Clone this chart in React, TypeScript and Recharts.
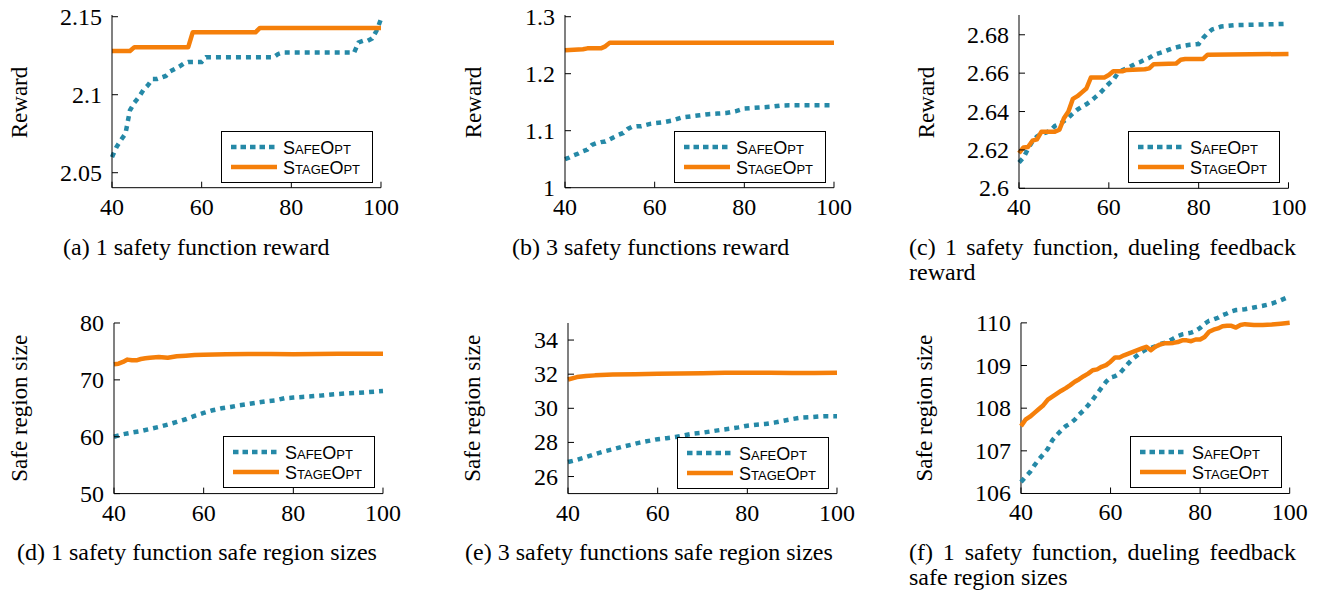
import React from 'react';
import { LineChart, Line, XAxis, YAxis, Legend, ReferenceLine } from 'recharts';

const TEAL = '#2589a7';
const ORANGE = '#f57f0a';
const SERIF = '"Liberation Serif", "Times New Roman", serif';
const SANS = '"Liberation Sans", Arial, sans-serif';

const xTicks = [40, 60, 80, 100];
const seriesNames = ['SafeOpt', 'StageOpt'];

// (a) 1 safety function reward
const aSafeX = [40, 41, 42, 43, 44, 45, 46, 47, 48, 49, 50, 51, 52, 53, 54, 55, 56, 57, 58, 59, 60, 61, 76, 77, 78, 94, 95, 96, 97, 98, 99, 100];
const aSafeY = [2.06, 2.0665, 2.071, 2.075, 2.09, 2.095, 2.0985, 2.103, 2.106, 2.11, 2.11, 2.111, 2.112, 2.115, 2.1165, 2.118, 2.12, 2.121, 2.121, 2.121, 2.121, 2.124, 2.124, 2.126, 2.127, 2.127, 2.1335, 2.1345, 2.1345, 2.136, 2.141, 2.1485];
const aStageX = [40, 44, 45, 57, 58, 72, 73, 100];
const aStageY = [2.128, 2.128, 2.1305, 2.1305, 2.14, 2.14, 2.1428, 2.1428];
const aYTicks = [2.05, 2.1, 2.15];

// (b) 3 safety functions reward
const bSafeX = [40, 41, 42, 43, 44, 45, 46, 47, 48, 49, 50, 51, 52, 53, 54, 55, 56, 57, 58, 59, 60, 62, 64, 66, 68, 70, 72, 74, 76, 78, 80, 82, 84, 86, 88, 90, 100];
const bSafeY = [1.05, 1.053, 1.057, 1.06, 1.064, 1.067, 1.075, 1.078, 1.08, 1.081, 1.085, 1.089, 1.093, 1.096, 1.103, 1.107, 1.108, 1.108, 1.11, 1.112, 1.113, 1.115, 1.118, 1.123, 1.125, 1.127, 1.129, 1.13, 1.131, 1.134, 1.139, 1.14, 1.141, 1.142, 1.144, 1.1445, 1.1445];
const bStageX = [40, 42, 44, 45, 48, 49, 50, 100];
const bStageY = [1.241, 1.242, 1.243, 1.2445, 1.2445, 1.248, 1.2545, 1.2545];
const bYTicks = [1, 1.1, 1.2, 1.3];

// (c) 1 safety function, dueling feedback reward
const cSafeX = [40, 41, 42, 43, 44, 45, 46, 47, 48, 49, 50, 51, 52, 53, 54, 55, 56, 57, 58, 59, 60, 61, 62, 63, 64, 65, 66, 67, 68, 69, 70, 72, 74, 76, 78, 80, 81, 82, 83, 85, 88, 100];
const cSafeY = [2.6134, 2.616, 2.6205, 2.6245, 2.627, 2.6285, 2.629, 2.63, 2.6325, 2.6335, 2.635, 2.6368, 2.639, 2.641, 2.6425, 2.6438, 2.6455, 2.6475, 2.6495, 2.652, 2.6545, 2.6565, 2.66, 2.6615, 2.6625, 2.6637, 2.665, 2.6658, 2.667, 2.668, 2.6695, 2.671, 2.6728, 2.674, 2.6748, 2.6752, 2.6783, 2.6808, 2.6828, 2.6843, 2.685, 2.6857];
const cStageX = [40, 41, 42, 43, 44, 45, 48, 49, 50, 51, 52, 53, 54, 55, 56, 59, 60, 61, 63, 64, 68, 69, 70, 75, 76, 77, 81, 82, 100];
const cStageY = [2.6183, 2.6213, 2.6215, 2.6248, 2.6255, 2.6295, 2.6295, 2.6305, 2.6365, 2.64, 2.6466, 2.648, 2.65, 2.652, 2.6577, 2.6577, 2.659, 2.661, 2.661, 2.6617, 2.662, 2.6625, 2.6647, 2.665, 2.667, 2.6674, 2.6674, 2.6696, 2.67];
const cYTicks = [2.6, 2.62, 2.64, 2.66, 2.68];

// (d) 1 safety function safe region sizes
const dSafeX = [40, 42, 44, 46, 48, 50, 52, 54, 56, 58, 60, 62, 64, 66, 68, 70, 72, 74, 76, 78, 80, 82, 84, 86, 88, 90, 92, 94, 96, 98, 100];
const dSafeY = [60.0, 60.43, 60.73, 61.0, 61.37, 61.72, 62.13, 62.6, 63.07, 63.66, 64.18, 64.65, 65.0, 65.24, 65.53, 65.76, 66.0, 66.23, 66.4, 66.76, 66.88, 67.0, 67.1, 67.23, 67.4, 67.52, 67.64, 67.7, 67.8, 67.93, 68.05];
const dStageX = [40, 41, 42, 43, 44, 45, 46, 47, 48, 50, 52, 54, 56, 58, 60, 65, 70, 75, 80, 85, 90, 95, 100];
const dStageY = [72.74, 72.85, 73.15, 73.56, 73.44, 73.44, 73.67, 73.79, 73.9, 74.0, 73.9, 74.14, 74.26, 74.38, 74.43, 74.5, 74.55, 74.55, 74.5, 74.55, 74.6, 74.6, 74.6];
const dYTicks = [50, 60, 70, 80];

// (e) 3 safety functions safe region sizes
const eSafeX = [40, 42, 44, 46, 48, 50, 52, 54, 56, 58, 60, 62, 64, 66, 68, 70, 72, 74, 76, 78, 80, 82, 84, 86, 88, 90, 92, 94, 96, 98, 100];
const eSafeY = [26.85, 26.98, 27.14, 27.31, 27.47, 27.6, 27.74, 27.86, 27.99, 28.09, 28.19, 28.25, 28.32, 28.42, 28.52, 28.57, 28.65, 28.73, 28.8, 28.88, 28.98, 29.04, 29.08, 29.16, 29.27, 29.37, 29.45, 29.48, 29.52, 29.54, 29.54];
const eStageX = [40, 42, 44, 46, 50, 55, 60, 70, 75, 80, 85, 90, 95, 100];
const eStageY = [31.69, 31.83, 31.89, 31.93, 31.98, 32.0, 32.02, 32.06, 32.08, 32.08, 32.08, 32.07, 32.07, 32.08];
const eYTicks = [26, 28, 30, 32, 34];

// (f) 1 safety function, dueling feedback safe region sizes
const fSafeX = [40, 41, 42, 43, 44, 45, 46, 47, 48, 49, 50, 51, 52, 53, 54, 55, 56, 57, 58, 59, 60, 61, 62, 63, 64, 65, 66, 67, 68, 69, 70, 71, 72, 73, 74, 75, 76, 77, 78, 79, 80, 81, 82, 83, 84, 85, 86, 87, 88, 89, 90, 92, 94, 96, 98, 100];
const fSafeY = [106.27, 106.39, 106.5, 106.66, 106.8, 106.92, 107.05, 107.25, 107.37, 107.48, 107.58, 107.64, 107.73, 107.85, 107.95, 108.07, 108.2, 108.34, 108.48, 108.62, 108.72, 108.75, 108.81, 108.93, 109.05, 109.16, 109.24, 109.32, 109.38, 109.41, 109.45, 109.5, 109.53, 109.57, 109.63, 109.69, 109.73, 109.75, 109.77, 109.81, 109.88, 109.98, 110.05, 110.08, 110.12, 110.18, 110.22, 110.27, 110.3, 110.31, 110.32, 110.36, 110.4, 110.45, 110.53, 110.62];
const fStageX = [40, 41, 42, 43, 44, 45, 46, 47, 48, 49, 50, 51, 52, 53, 54, 55, 56, 57, 58, 59, 60, 61, 62, 63, 64, 65, 66, 67, 68, 69, 70, 71, 72, 73, 74, 75, 76, 77, 78, 79, 80, 81, 82, 83, 84, 85, 86, 87, 88, 89, 90, 92, 94, 96, 98, 100];
const fStageY = [107.58, 107.73, 107.8, 107.89, 107.98, 108.07, 108.2, 108.27, 108.34, 108.41, 108.47, 108.54, 108.62, 108.68, 108.75, 108.81, 108.89, 108.91, 108.97, 109.01, 109.09, 109.19, 109.19, 109.24, 109.28, 109.32, 109.36, 109.4, 109.44, 109.36, 109.44, 109.49, 109.52, 109.52, 109.53, 109.55, 109.59, 109.59, 109.57, 109.61, 109.61, 109.67, 109.79, 109.84, 109.87, 109.92, 109.93, 109.93, 109.89, 109.95, 109.97, 109.95, 109.95, 109.96, 109.98, 110.0];
const fYTicks = [106, 107, 108, 109, 110];

const rows = (xs: number[], ys: number[]) => xs.map((x, i) => ({ x, y: ys[i] }));

const XTick = (props: any) => {
  const { x, y, payload } = props;
  return (
    <g>
      <line x1={x} y1={y} x2={x} y2={y - 6} stroke="#000" strokeWidth={1} />
      <text x={x} y={y + 27} textAnchor="middle" fontSize={24} fontFamily={SERIF} fill="#000">
        {String(payload.value)}
      </text>
    </g>
  );
};

const YTick = (props: any) => {
  const { x, y, payload } = props;
  return (
    <g>
      <line x1={x} y1={y} x2={x + 6} y2={y} stroke="#000" strokeWidth={1} />
      <text x={x - 10} y={y + 8} textAnchor="end" fontSize={24} fontFamily={SERIF} fill="#000">
        {String(payload.value)}
      </text>
    </g>
  );
};

const YLab = (props: any) => {
  const { bx, cy, text } = props;
  return (
    <text
      transform={`translate(${bx},${cy}) rotate(-90)`}
      textAnchor="middle"
      fontSize={23}
      fontFamily={SERIF}
      fill="#000"
    >
      {text}
    </text>
  );
};

const LegendBox = () => (
  <svg width={153} height={53} style={{ display: 'block' }}>
    <rect x={0.5} y={0.5} width={151} height={51} fill="#fff" stroke="#000" strokeWidth={1} />
    <line x1={10} y1={16} x2={56} y2={16} stroke={TEAL} strokeWidth={4.5} strokeDasharray="5.5 4" />
    <line x1={10} y1={36} x2={56} y2={36} stroke={ORANGE} strokeWidth={4.5} />
    <text x={62} y={22.5} fontSize={18} fontFamily={SANS} style={{ fontVariant: 'small-caps' }} fill="#000">
      {seriesNames[0]}
    </text>
    <text x={62} y={42.5} fontSize={18} fontFamily={SANS} style={{ fontVariant: 'small-caps' }} fill="#000">
      {seriesNames[1]}
    </text>
  </svg>
);

type PanelProps = {
  plotX: number;
  plotY: number;
  plotW: number;
  plotH: number;
  yDomain: [number, number];
  yTicks: number[];
  safe: { x: number; y: number }[];
  stage: { x: number; y: number }[];
  yLabel: string;
  labelX: number;
  labelY: number;
  legendX: number;
  legendY: number;
  axisTop?: number;
};

const Panel = (p: PanelProps) => {
  const YW = 110;
  const MT = Math.min(Math.floor(p.plotY), 28);
  const MR = 20;
  const XH = 45;
  const chartLeft = p.plotX - YW;
  const chartTop = p.plotY - MT;
  const W = YW + p.plotW + MR;
  const H = MT + p.plotH + XH;
  const customAxis = p.axisTop !== undefined;
  return (
    <div style={{ position: 'absolute', left: chartLeft, top: chartTop }}>
      <LineChart width={W} height={H} margin={{ top: MT, right: MR, bottom: 0, left: 0 }}>
        <XAxis
          type="number"
          dataKey="x"
          domain={[40, 100]}
          ticks={xTicks}
          interval={0}
          height={XH}
          tickSize={0}
          tickMargin={0}
          tickLine={false}
          axisLine={{ stroke: '#000', strokeWidth: 1 }}
          tick={(props: any) => <XTick {...props} />}
        />
        <YAxis
          type="number"
          domain={p.yDomain}
          ticks={p.yTicks}
          interval={0}
          width={YW}
          tickSize={0}
          tickMargin={0}
          tickLine={false}
          axisLine={customAxis ? false : { stroke: '#000', strokeWidth: 1 }}
          tick={(props: any) => <YTick {...props} />}
          label={<YLab bx={p.labelX - chartLeft} cy={p.labelY - chartTop} text={p.yLabel} />}
        />
        {customAxis && (
          <ReferenceLine
            segment={[
              { x: 40, y: p.yDomain[0] },
              { x: 40, y: p.axisTop as number },
            ]}
            stroke="#000"
            strokeWidth={1}
            ifOverflow="visible"
          />
        )}
        <Line
          data={p.safe}
          dataKey="y"
          type="linear"
          stroke={TEAL}
          strokeWidth={4.5}
          strokeDasharray="5 5"
          dot={false}
          activeDot={false}
          isAnimationActive={false}
          name={seriesNames[0]}
        />
        <Line
          data={p.stage}
          dataKey="y"
          type="linear"
          stroke={ORANGE}
          strokeWidth={4.5}
          strokeLinejoin="round"
          dot={false}
          activeDot={false}
          isAnimationActive={false}
          name={seriesNames[1]}
        />
        <Legend
          layout="horizontal"
          align="center"
          verticalAlign="middle"
          content={() => <LegendBox />}
          wrapperStyle={{
            position: 'absolute',
            left: p.legendX - chartLeft,
            top: p.legendY - chartTop,
            width: 153,
            height: 53,
          }}
        />
      </LineChart>
    </div>
  );
};

const capBase: React.CSSProperties = {
  position: 'absolute',
  fontFamily: SERIF,
  fontSize: 24,
  lineHeight: '25px',
  color: '#000',
  whiteSpace: 'nowrap',
};

const capJust: React.CSSProperties = {
  ...capBase,
  whiteSpace: 'normal',
  textAlign: 'justify',
  width: 387,
};

export default function App() {
  return (
    <div
      style={{
        position: 'absolute',
        left: 0,
        top: 0,
        width: 1317,
        height: 592,
        background: '#fff',
        overflow: 'hidden',
      }}
    >
      <Panel plotX={112} plotY={15} plotW={269} plotH={172.7} yDomain={[2.0404, 2.1511]} yTicks={aYTicks}
        safe={rows(aSafeX, aSafeY)} stage={rows(aStageX, aStageY)} yLabel="Reward" labelX={27} labelY={102.5}
        legendX={221} legendY={131} />
      <Panel plotX={565} plotY={15} plotW={269} plotH={172.7} yDomain={[1, 1.303]} yTicks={bYTicks}
        safe={rows(bSafeX, bSafeY)} stage={rows(bStageX, bStageY)} yLabel="Reward" labelX={481} labelY={102.5}
        legendX={674} legendY={131} />
      <Panel plotX={1019} plotY={15} plotW={269.5} plotH={173.3} yDomain={[2.6, 2.6903]} yTicks={cYTicks}
        safe={rows(cSafeX, cSafeY)} stage={rows(cStageX, cStageY)} yLabel="Reward" labelX={934} labelY={102.5}
        legendX={1128} legendY={131} />
      <Panel plotX={114.3} plotY={322.7} plotW={269} plotH={170.6} yDomain={[50, 80]} yTicks={dYTicks}
        safe={rows(dSafeX, dSafeY)} stage={rows(dStageX, dStageY)} yLabel="Safe region size" labelX={27} labelY={408}
        legendX={223} legendY={436} />
      <Panel plotX={567.7} plotY={322.7} plotW={269} plotH={170.6} yDomain={[25, 35]} yTicks={eYTicks}
        safe={rows(eSafeX, eSafeY)} stage={rows(eStageX, eStageY)} yLabel="Safe region size" labelX={480} labelY={408}
        legendX={677} legendY={437} />
      <Panel plotX={1021.3} plotY={292.8} plotW={268.7} plotH={200.5} yDomain={[106, 110.7]} yTicks={fYTicks}
        safe={rows(fSafeX, fSafeY)} stage={rows(fStageX, fStageY)} yLabel="Safe region size" labelX={932} labelY={408}
        legendX={1130} legendY={436} axisTop={110} />

      <div style={{ ...capBase, left: 63, top: 235.4 }}>(a) 1 safety function reward</div>
      <div style={{ ...capBase, left: 512, top: 235.4 }}>(b) 3 safety functions reward</div>
      <div style={{ ...capJust, left: 909, top: 235.4 }}>(c) 1 safety function, dueling feedback reward</div>
      <div style={{ ...capBase, left: 17, top: 540.4 }}>(d) 1 safety function safe region sizes</div>
      <div style={{ ...capBase, left: 465, top: 540.4 }}>(e) 3 safety functions safe region sizes</div>
      <div style={{ ...capJust, left: 909, top: 540.4 }}>(f) 1 safety function, dueling feedback safe region sizes</div>
    </div>
  );
}
